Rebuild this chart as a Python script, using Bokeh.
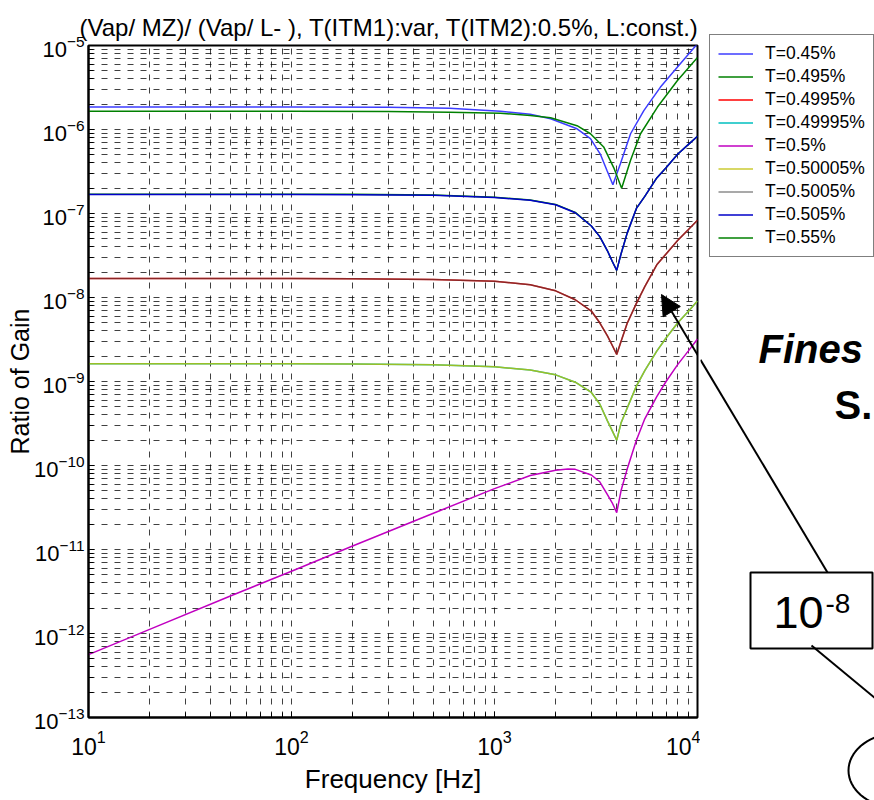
import math
from bokeh.plotting import figure
from bokeh.layouts import row
from bokeh.models import (Legend, LegendItem, Label, Arrow, NormalHead, FixedTicker,
                          BoxAnnotation, PolyAnnotation, Range1d)
from bokeh.embed import file_html
from bokeh.resources import INLINE

# ---------------- data ----------------
freq_045 = [10, 100, 300, 600, 1070, 1500, 1890, 2550, 2970, 3320, 3590, 3830, 4170, 4680, 5440, 6570, 7950, 10000]
gain_045 = [1.85e-6, 1.85e-6, 1.84e-6, 1.79e-6, 1.65e-6, 1.52e-6, 1.34e-6, 1.02e-6, 7.8e-7, 5.1e-7, 3.2e-7, 2.2e-7,
            3.9e-7, 8.9e-7, 1.68e-6, 3.2e-6, 5.5e-6, 1.05e-5]

freq_055 = [10, 100, 300, 600, 1070, 1500, 1890, 2550, 2970, 3450, 3870, 4230, 4680, 5240, 6350, 7950, 10000]
gain_055 = [1.65e-6, 1.65e-6, 1.64e-6, 1.61e-6, 1.56e-6, 1.47e-6, 1.38e-6, 1.11e-6, 8.9e-7, 6.2e-7, 3.5e-7, 2.0e-7,
            4.3e-7, 8.9e-7, 1.85e-6, 3.8e-6, 7.2e-6]

freq = [10, 20, 50, 100, 200, 500, 1000, 1500, 2000, 2500, 3000, 3300, 3600, 3800, 4000, 4200, 4500, 5000,
        5500, 6300, 7000, 8000, 9000, 10000]
gain_0495 = [1.70e-7, 1.70e-7, 1.70e-7, 1.70e-7, 1.69e-7, 1.66e-7, 1.56e-7, 1.45e-7, 1.28e-7, 1.03e-7, 7.1e-8,
             5.3e-8, 3.6e-8, 2.7e-8, 2.1e-8, 3.3e-8, 5.8e-8, 1.15e-7, 1.6e-7, 2.65e-7, 3.5e-7, 5.1e-7, 6.6e-7, 8.3e-7]
gain_0505 = [1.68e-7, 1.68e-7, 1.68e-7, 1.68e-7, 1.67e-7, 1.65e-7, 1.55e-7, 1.44e-7, 1.27e-7, 1.02e-7, 7.1e-8,
             5.3e-8, 3.6e-8, 2.7e-8, 2.1e-8, 3.3e-8, 5.8e-8, 1.15e-7, 1.6e-7, 2.65e-7, 3.5e-7, 5.1e-7, 6.6e-7, 8.3e-7]
gain_04995 = [1.68e-8, 1.68e-8, 1.68e-8, 1.68e-8, 1.67e-8, 1.64e-8, 1.56e-8, 1.42e-8, 1.2e-8, 9.4e-9, 6.9e-9,
              5.0e-9, 3.5e-9, 2.7e-9, 2.1e-9, 3.0e-9, 4.9e-9, 8.5e-9, 1.35e-8, 2.45e-8, 3.3e-8, 4.8e-8, 6.4e-8, 8.3e-8]
gain_05005 = gain_04995
gain_049995 = [1.63e-9, 1.63e-9, 1.63e-9, 1.63e-9, 1.62e-9, 1.58e-9, 1.5e-9, 1.37e-9, 1.2e-9, 9.8e-10, 7.4e-10,
               5.4e-10, 3.4e-10, 2.6e-10, 2.0e-10, 3.2e-10, 4.8e-10, 8.8e-10, 1.35e-9, 2.3e-9, 3.3e-9, 5.0e-9, 6.8e-9, 9.1e-9]
gain_050005 = gain_049995
freq_05 = [10, 20, 50, 100, 200, 500, 1000, 1500, 2000, 2300, 2500, 3000, 3300, 3600, 3800, 4000, 4200, 4500,
           5000, 5500, 6300, 7000, 8000, 9000, 10000]
gain_05 = [5.6e-13, 1.12e-12, 2.8e-12, 5.5e-12, 1.1e-11, 2.7e-11, 5.3e-11, 7.6e-11, 8.8e-11, 9.1e-11, 9.0e-11,
           7.7e-11, 6.4e-11, 4.5e-11, 3.6e-11, 2.75e-11, 5.0e-11, 9.0e-11, 2.0e-10, 3.6e-10, 6.6e-10, 1.0e-9,
           1.6e-9, 2.3e-9, 3.2e-9]

labels = ["T=0.45%", "T=0.495%", "T=0.4995%", "T=0.49995%", "T=0.5%", "T=0.50005%", "T=0.5005%", "T=0.505%", "T=0.55%"]
colors = ["#3c3cff", "#008000", "#ff0000", "#00bfbf", "#c000c0", "#bfbf00", "#404040", "#0000c8", "#008000"]
alphas = [1, 1, 1, 1, 1, 0.8, 0.6, 1, 1]
series = [(freq_045, gain_045), (freq, gain_0495), (freq, gain_04995), (freq, gain_049995), (freq_05, gain_05),
          (freq, gain_050005), (freq, gain_05005), (freq, gain_0505), (freq_055, gain_055)]

x_major = [10, 100, 1000, 10000]
y_major = [10.0 ** e for e in range(-13, -4)]

FONT = "Liberation Sans"
MAIN_W = 700  # width of the chart part; the side panel takes the rest of the 874 px

# ---------------- main chart ----------------
p = figure(width=MAIN_W, height=800, x_axis_type="log", y_axis_type="log",
           x_range=(10, 1e4), y_range=(1e-13, 1e-5),
           output_backend="svg", toolbar_location=None,
           min_border_left=88, min_border_right=MAIN_W - 697, min_border_top=45, min_border_bottom=83,
           background_fill_color="white", border_fill_color="white")
p.frame_align = False

p.title.text = "(Vap/ MZ)/ (Vap/ L- ), T(ITM1):var, T(ITM2):0.5%, L:const.)"
p.title.text_font = FONT
p.title.text_font_size = "24px"
p.title.text_font_style = "normal"
p.title.text_color = "black"
p.title.align = "left"
p.title.offset = -9

p.xaxis.ticker = FixedTicker(ticks=x_major, minor_ticks=[m * t for t in x_major[:-1] for m in range(2, 10)])
p.yaxis.ticker = FixedTicker(ticks=y_major, minor_ticks=[m * t for t in y_major[:-1] for m in range(2, 10)])

for ax in (p.xaxis, p.yaxis):
    ax.axis_line_width = 2
    ax.axis_line_color = "black"
    ax.major_tick_in = 6
    ax.major_tick_out = 0
    ax.minor_tick_in = 5
    ax.minor_tick_out = 0
    ax.major_label_text_font = FONT
    ax.major_label_text_font_size = "22px"
    ax.major_label_text_color = "black"
    ax.axis_label_text_font = FONT
    ax.axis_label_text_font_size = "25px"
    ax.axis_label_text_font_style = "normal"
    ax.axis_label_text_color = "black"

p.xaxis.major_label_text_font_size = "23px"
p.xaxis.axis_label_text_font_size = "26px"
p.xaxis.axis_label = "Frequency [Hz]"
p.yaxis.axis_label = "Ratio of Gain"
p.xaxis.major_label_standoff = 12
p.yaxis.major_label_standoff = 4
p.xaxis.axis_label_standoff = 6
p.yaxis.axis_label_standoff = -3

for g in (p.xgrid, p.ygrid):
    g.grid_line_color = "black"
    g.grid_line_alpha = 0.75
    g.grid_line_dash = "6 7"
    g.minor_grid_line_color = "black"
    g.minor_grid_line_alpha = 0.75
    g.minor_grid_line_dash = "6 7"

p.outline_line_color = "black"
p.outline_line_width = 2

for col, al, (fx, gy) in zip(colors, alphas, series):
    p.line(fx, gy, line_color=col, line_width=1.5, line_alpha=al)

# arrow: tip inside the chart, shaft continues in the side panel
ARROW_TIP = (661, 294)
ARROW_TAIL = (827, 572)
slope = (ARROW_TAIL[1] - ARROW_TIP[1]) / (ARROW_TAIL[0] - ARROW_TIP[0])
y_cross = ARROW_TIP[1] + (MAIN_W - ARROW_TIP[0]) * slope
p.add_layout(Arrow(x_start=MAIN_W, y_start=y_cross, x_end=ARROW_TIP[0], y_end=ARROW_TIP[1],
                   start_units="canvas", end_units="canvas", line_width=2, line_color="black",
                   end=NormalHead(size=20, fill_color="black", line_color="black")))

# ---------------- side panel: legend + slide annotations ----------------
SW = 874 - MAIN_W
s = figure(width=SW, height=800, x_range=Range1d(0, SW), y_range=Range1d(0, 800),
           output_backend="svg", toolbar_location=None,
           x_axis_location=None, y_axis_location=None,
           min_border_left=0, min_border_right=0, min_border_top=0, min_border_bottom=0,
           background_fill_color="white", border_fill_color="white", outline_line_color=None)
s.frame_align = False
s.xgrid.visible = False
s.ygrid.visible = False

# legend proxies: single-point lines (draw nothing in the panel, but carry the series styles)
items = []
for lab, col, al, (fx, gy) in zip(labels, colors, alphas, series):
    r = s.line([fx[0]], [gy[0]], line_color=col, line_width=1.5, line_alpha=al)
    items.append(LegendItem(label=lab, renderers=[r]))

legend = Legend(items=items, location=(709 - MAIN_W, 543), margin=0, padding=8, spacing=2,
                label_text_font=FONT, label_text_font_size="17.5px", label_text_color="black",
                label_height=21, glyph_width=35, glyph_height=21, label_standoff=12,
                border_line_color="black", border_line_width=1.5,
                background_fill_color="white", background_fill_alpha=1)
s.add_layout(legend, "center")

def side_text(x, y, text, size, style="normal"):
    s.add_layout(Label(x=x - MAIN_W, y=y, x_units="canvas", y_units="canvas", text=text,
                       text_font=FONT, text_font_size=size, text_font_style=style,
                       text_color="black", text_baseline="middle"))

side_text(758, 348, "Fines", "40px", "bold italic")
side_text(834, 404, "S.", "40px", "bold")
s.add_layout(BoxAnnotation(left=750 - MAIN_W, right=872 - MAIN_W, top=572, bottom=648,
                           left_units="canvas", right_units="canvas", top_units="canvas", bottom_units="canvas",
                           fill_alpha=0, line_color="black", line_width=2, line_alpha=1))
side_text(773, 612, "10", "45px")
side_text(825, 603, "-8", "28px")
s.add_layout(Arrow(x_start=ARROW_TAIL[0] - MAIN_W, y_start=ARROW_TAIL[1], x_end=0, y_end=y_cross,
                   start_units="canvas", end_units="canvas", line_width=2, line_color="black", end=None))
s.add_layout(Arrow(x_start=811 - MAIN_W, y_start=645, x_end=875 - MAIN_W, y_end=698,
                   start_units="canvas", end_units="canvas", line_width=2, line_color="black", end=None))
ell_x = [900 - MAIN_W + 52 * math.cos(2 * math.pi * k / 72) for k in range(73)]
ell_y = [770 + 38 * math.sin(2 * math.pi * k / 72) for k in range(73)]
s.add_layout(PolyAnnotation(xs=ell_x, ys=ell_y, xs_units="canvas", ys_units="canvas",
                            fill_alpha=0, line_color="black", line_width=2, line_alpha=1))

layout = row(p, s, spacing=0)
open("out.html", "w").write(file_html(layout, INLINE))
